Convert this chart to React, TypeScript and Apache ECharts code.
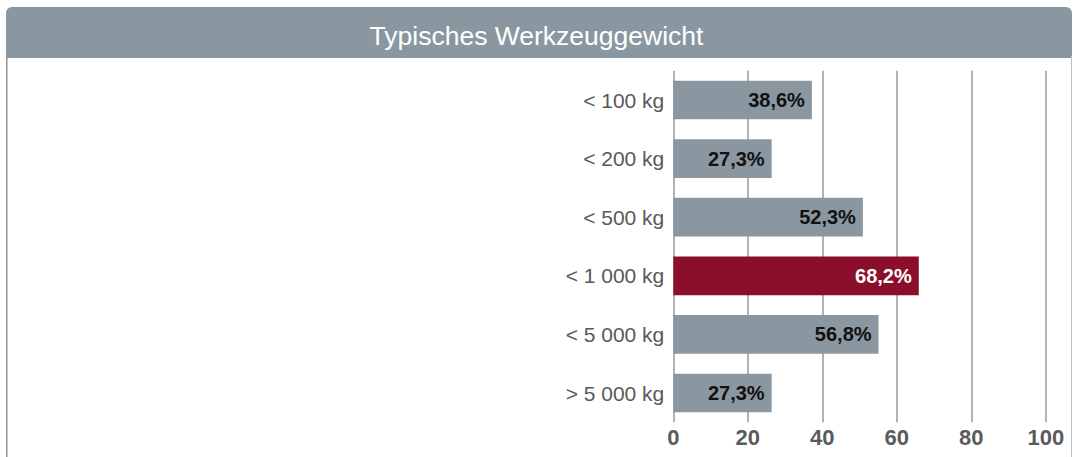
import React, { useEffect, useRef } from "react";
import * as echarts from "echarts";

const categories = ["< 100 kg", "< 200 kg", "< 500 kg", "< 1 000 kg", "< 5 000 kg", "> 5 000 kg"];
const barValues = [37.2, 26.4, 50.9, 65.9, 55.1, 26.4];
const labelTexts = ["38,6%", "27,3%", "52,3%", "68,2%", "56,8%", "27,3%"];
const highlightIndex = 3;
const xTicks = [0, 20, 40, 60, 80, 100];
const title = "Typisches Werkzeuggewicht";

const FONT = "'Liberation Sans', Arial, Helvetica, sans-serif";
const GRAY = "#8a97a1";
const RED = "#8b0e2a";

export default function App() {
  const ref = useRef<HTMLDivElement>(null);
  useEffect(() => {
    if (!ref.current) return;
    const chart = echarts.init(ref.current, null, { renderer: "svg" });
    chart.setOption({
      animation: false,
      backgroundColor: "#ffffff",
      title: {
        text: title,
        left: "center",
        top: 17,
        textStyle: { color: "#ffffff", fontSize: 26.5, fontWeight: "normal", fontFamily: FONT },
      },
      graphic: [
        {
          type: "rect",
          z: -1,
          shape: { x: 6, y: 7, width: 1066, height: 51, r: [6, 6, 2, 2] },
          style: { fill: GRAY },
        },
        {
          type: "line",
          shape: { x1: 6.75, y1: 56, x2: 6.75, y2: 457 },
          style: { stroke: GRAY, lineWidth: 1.5 },
        },
        {
          type: "line",
          shape: { x1: 1071.5, y1: 56, x2: 1071.5, y2: 457 },
          style: { stroke: "#b9c1c7", lineWidth: 1 },
        },
      ],
      grid: { left: 673.3, right: 27.2, top: 70.7, bottom: 34.7, containLabel: false },
      xAxis: {
        type: "value",
        min: xTicks[0],
        max: xTicks[xTicks.length - 1],
        interval: 20,
        axisLine: { show: false },
        axisTick: { show: false },
        splitLine: { show: true, lineStyle: { color: "#b3b3b3", width: 2 } },
        axisLabel: {
          color: "#5b5b5b",
          fontSize: 22,
          fontWeight: "bold",
          fontFamily: FONT,
          margin: 4,
        },
      },
      yAxis: {
        type: "category",
        data: categories,
        inverse: true,
        axisLine: { show: false },
        axisTick: { show: false },
        axisLabel: { color: "#595959", fontSize: 21, fontFamily: FONT, margin: 9 },
      },
      series: [
        {
          type: "bar",
          barWidth: "66%",
          data: barValues.map((v, i) => ({
            value: v,
            itemStyle: { color: i === highlightIndex ? RED : GRAY },
            label: { color: i === highlightIndex ? "#ffffff" : "#111111" },
          })),
          label: {
            show: true,
            position: "insideRight",
            distance: 7,
            fontSize: 20,
            fontWeight: "bold",
            fontFamily: FONT,
            formatter: (p: any) => labelTexts[p.dataIndex],
          },
        },
      ],
    });
    return () => chart.dispose();
  }, []);
  return (
    <div
      ref={ref}
      style={{ position: "fixed", left: 0, top: 0, width: 1073, height: 457 }}
    />
  );
}
